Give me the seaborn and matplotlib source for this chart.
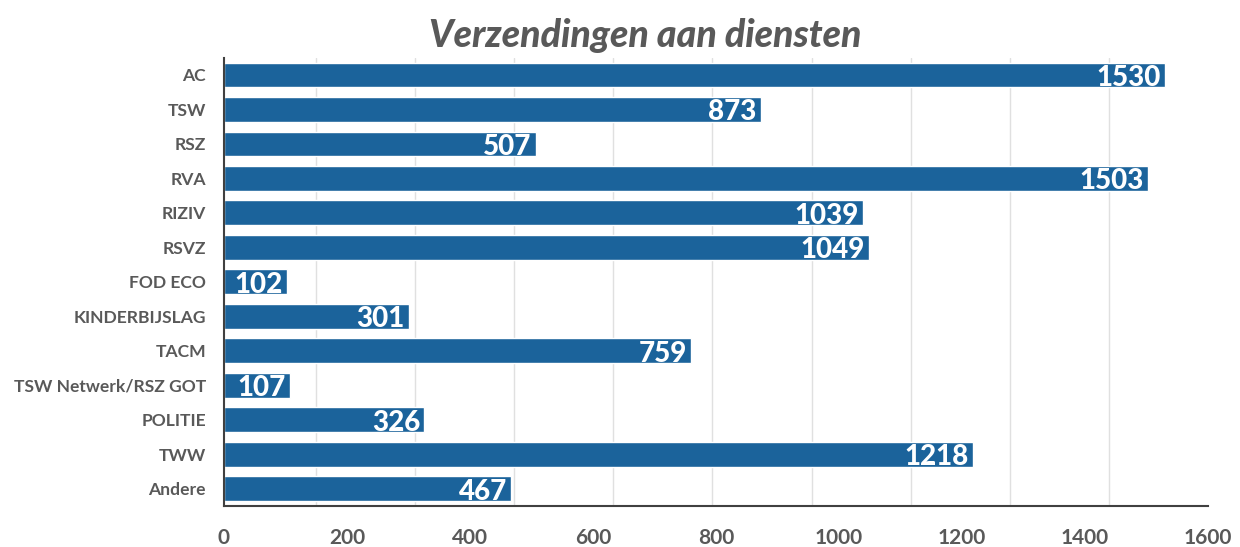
import seaborn as sns
import matplotlib.pyplot as plt
import pandas as pd
import numpy as np

# data
diensten = ["AC", "TSW", "RSZ", "RVA", "RIZIV", "RSVZ", "FOD ECO", "KINDERBIJSLAG",
            "TACM", "TSW Netwerk/RSZ GOT", "POLITIE", "TWW", "Andere"]
aantallen = [1530, 873, 507, 1503, 1039, 1049, 102, 301, 759, 107, 326, 1218, 467]
x_ticks = [0, 200, 400, 600, 800, 1000, 1200, 1400, 1600]

df = pd.DataFrame({"Dienst": diensten, "Aantal": aantallen})

sns.set_style("white")
plt.rcParams["font.family"] = ["Lato", "DejaVu Sans"]

grijs = "#595959"
blauw = "#1b639b"

fig = plt.figure(figsize=(12.4, 5.47), dpi=100)
ax = fig.add_axes([0.1806, 0.075, 0.7935, 0.8195])

sns.barplot(data=df, x="Aantal", y="Dienst", color=blauw, width=0.72,
            saturation=1, ax=ax, zorder=3)

for p, v in zip(ax.patches, aantallen):
    ax.annotate(str(v), (p.get_width(), p.get_y() + p.get_height() / 2),
                xytext=(-3, -2), textcoords="offset points",
                ha="right", va="center", color="white",
                fontsize=20, fontweight="black", zorder=4)

ax.set_xlim(0, 1600)
ax.set_ylim(len(diensten) - 0.5, -0.5)
ax.set_xticks(x_ticks)
ax.set_xticks(np.linspace(150, 1600, 10), minor=True)
ax.grid(False)
ax.grid(True, which="minor", axis="x", color="#e0e0e0", linewidth=1, zorder=0)
ax.tick_params(axis="x", which="both", length=0, pad=16, labelsize=15, labelcolor=grijs)
ax.tick_params(axis="y", length=0, pad=13, labelsize=12.6, labelcolor=grijs)
for lbl in ax.get_xticklabels() + ax.get_yticklabels():
    lbl.set_fontweight("bold")

ax.set_xlabel("")
ax.set_ylabel("")
for s in ["top", "right"]:
    ax.spines[s].set_visible(False)
for s in ["left", "bottom"]:
    ax.spines[s].set_color("#404040")
    ax.spines[s].set_linewidth(1.5)
    ax.spines[s].set_zorder(5)

fig.suptitle("Verzendingen aan diensten", x=0.52, y=0.968, fontsize=27,
             fontweight="black", fontstyle="italic", color=grijs)

plt.savefig("out.png", dpi=100)
plt.close()
